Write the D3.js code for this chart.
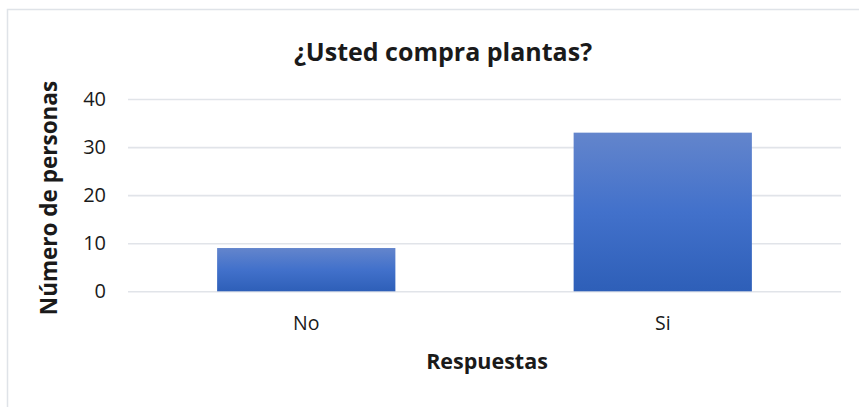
<!DOCTYPE html>
<html>
<head>
<meta charset="utf-8">
<script src="https://cdn.jsdelivr.net/npm/d3@7.9.0/dist/d3.min.js"></script>
<style>
  html, body { margin: 0; padding: 0; background: #fff; }
  text { font-family: "Open Sans", Lato, sans-serif; fill: #1a1a1a; }
</style>
</head>
<body>
<svg id="chart" width="859" height="407"></svg>
<script>
// data
const categories = ['No', 'Si'];
const counts = [9, 33];
const yTicks = [0, 10, 20, 30, 40];

const title = '¿Usted compra plantas?';
const xTitle = 'Respuestas';
const yTitle = 'Número de personas';

const svg = d3.select('#chart');

// chart frame (light border, cut off at right/bottom like the screenshot)
svg.append('rect')
  .attr('x', 7.5).attr('y', 9.5)
  .attr('width', 900).attr('height', 500)
  .attr('fill', '#fff')
  .attr('stroke', '#dfe3e8')
  .attr('stroke-width', 1.5);

const plot = { left: 128, right: 841, top: 99, bottom: 291.3 };

const x = d3.scaleBand()
  .domain(categories)
  .range([plot.left, plot.right])
  .paddingInner(0.5)
  .paddingOuter(0.25);

const y = d3.scaleLinear()
  .domain([0, 40])
  .range([plot.bottom, plot.top]);

// gradient for the bars
const grad = svg.append('defs').append('linearGradient')
  .attr('id', 'barGrad')
  .attr('x1', 0).attr('y1', 0).attr('x2', 0).attr('y2', 1);
grad.append('stop').attr('offset', '0%').attr('stop-color', '#6385cc');
grad.append('stop').attr('offset', '50%').attr('stop-color', '#4271cb');
grad.append('stop').attr('offset', '100%').attr('stop-color', '#2e5fb8');

// gridlines via axis
const yAxis = svg.append('g')
  .attr('transform', `translate(${plot.left},0)`)
  .call(d3.axisLeft(y).tickValues(yTicks).tickSize(-(plot.right - plot.left)).tickPadding(22));
yAxis.select('.domain').remove();
yAxis.selectAll('.tick line')
  .attr('stroke', '#e1e4e9')
  .attr('stroke-width', 1.6);
yAxis.selectAll('.tick text')
  .attr('font-size', 20)
  .attr('font-family', '"Open Sans", sans-serif')
  .attr('fill', '#1a1a1a');

// bars
svg.append('g').selectAll('rect')
  .data(counts)
  .join('rect')
  .attr('x', (d, i) => x(categories[i]))
  .attr('y', d => y(d))
  .attr('width', x.bandwidth())
  .attr('height', d => y(0) - y(d))
  .attr('fill', 'url(#barGrad)');

// x axis labels
const xAxis = svg.append('g')
  .attr('transform', `translate(0,${plot.bottom})`)
  .call(d3.axisBottom(x).tickSize(0).tickPadding(0));
xAxis.select('.domain').remove();
xAxis.selectAll('.tick text')
  .attr('dy', null)
  .attr('y', 330 - plot.bottom)
  .attr('font-size', 19.5)
  .attr('font-family', '"Open Sans", sans-serif')
  .attr('fill', '#1a1a1a');

// titles
svg.append('text')
  .attr('x', 443).attr('y', 61)
  .attr('text-anchor', 'middle')
  .attr('font-size', 25)
  .attr('font-weight', 'bold')
  .text(title);

svg.append('text')
  .attr('x', 487).attr('y', 369)
  .attr('text-anchor', 'middle')
  .attr('font-size', 21.5)
  .attr('font-weight', 'bold')
  .text(xTitle);

svg.append('text')
  .attr('transform', `translate(57,198) rotate(-90)`)
  .attr('text-anchor', 'middle')
  .attr('font-size', 22.5)
  .attr('font-weight', 'bold')
  .attr('font-family', '"DejaVu Sans", sans-serif')
  .text(yTitle);
</script>
</body>
</html>
